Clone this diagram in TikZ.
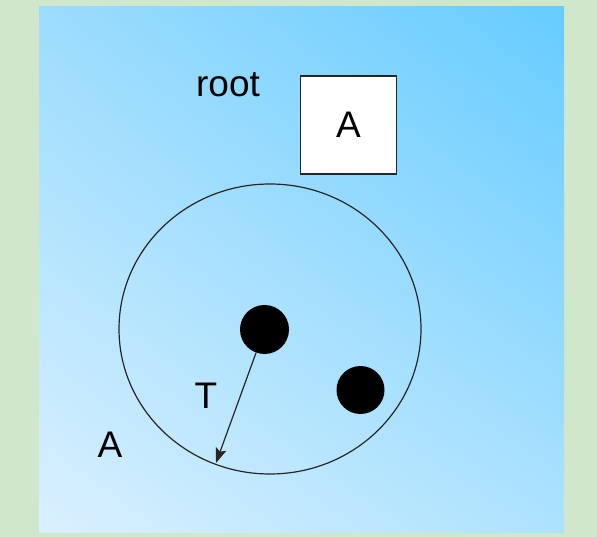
\documentclass[tikz,border=0pt]{standalone}
\usepackage{fontspec}
\setmainfont{Liberation Sans}
\usetikzlibrary{arrows.meta,shapes.geometric,shadings}
\definecolor{bggreen}{HTML}{D1E7CB}
\definecolor{ulc}{HTML}{9CDCFD}
\definecolor{urc}{HTML}{66CCFF}
\definecolor{llc}{HTML}{DAF0FE}
\definecolor{lrc}{HTML}{ADE2FE}
\tikzset{
  lbl/.style={inner sep=0pt, font=\fontsize{37}{44}\selectfont},
  dot/.style={circle, fill=black, minimum size=49pt, inner sep=0pt},
  line/.style={draw=black!85, line width=1.2pt}
}
\begin{document}
\begin{tikzpicture}[x=1pt,y=-1pt]
\useasboundingbox (0,0) rectangle (597,537);
\fill[bggreen] (0,0) rectangle (597,537);
\shade[upper left=ulc, upper right=urc, lower left=llc, lower right=lrc] (39,532) rectangle (564,7);
\node[lbl] (root) at (228,85) {root};
\node[lbl, draw=black!85, line width=1.2pt, fill=white, minimum width=96pt, minimum height=98pt] (box) at (348.5,125) {A};
\node[ellipse, line, minimum width=302pt, minimum height=290pt, inner sep=0pt] (circ) at (270,329) {};
\node[dot] (d1) at (264.5,329.5) {};
\node[dot, minimum size=48pt] (d2) at (360.5,390) {};
\coordinate (tip) at (216,463);
\draw[line, -{Stealth[length=15pt,width=11pt,inset=3pt]}] (d1) -- (tip);
\node[lbl] (T) at (206,396) {T};
\node[lbl] (A) at (110,445) {A};
\end{tikzpicture}
\end{document}
